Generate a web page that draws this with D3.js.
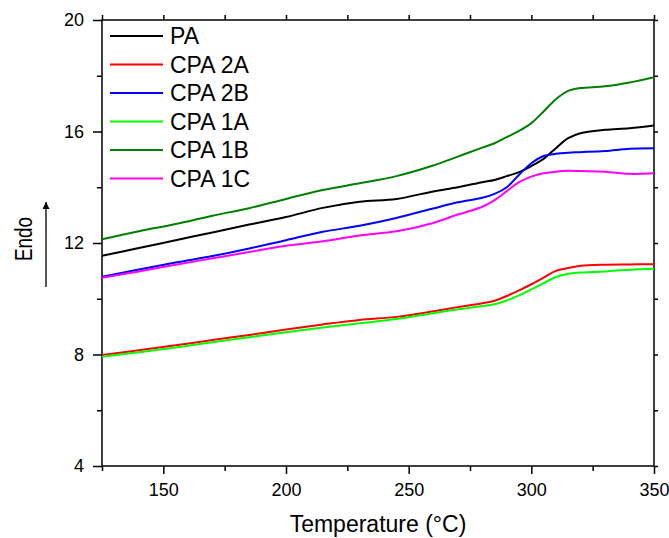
<!DOCTYPE html>
<html>
<head>
<meta charset="utf-8">
<script src="https://cdn.jsdelivr.net/npm/d3@7"></script>
<style>
  html, body { margin: 0; padding: 0; background: #fff; }
  svg { display: block; }
  text { font-family: Arial, "Liberation Sans", sans-serif; fill: #000; }
</style>
</head>
<body>
<svg id="chart" width="669" height="538"></svg>
<script>
// ---- data ----
const temps = [125,140,155,170,185,200,215,230,245,260,270,280,285,290,295,300,305,310,315,320,330,340,350];
const seriesNames = ["PA","CPA 2A","CPA 2B","CPA 1A","CPA 1B","CPA 1C"];
const seriesColors = ["#000000","#ff0000","#0000ff","#00ff00","#008000","#ff00ff"];
const PA    = [11.54,11.82,12.10,12.38,12.66,12.93,13.26,13.48,13.58,13.85,14.00,14.18,14.26,14.40,14.54,14.76,15.02,15.40,15.76,15.94,16.06,16.12,16.22];
const CPA2A = [7.98,8.15,8.33,8.52,8.70,8.90,9.08,9.24,9.35,9.55,9.70,9.84,9.93,10.10,10.30,10.52,10.76,11.00,11.10,11.18,11.22,11.23,11.24];
const CPA2B = [10.79,11.05,11.30,11.53,11.80,12.10,12.40,12.62,12.90,13.24,13.46,13.62,13.76,14.00,14.45,14.86,15.12,15.20,15.24,15.26,15.30,15.38,15.40];
const CPA1A = [7.92,8.08,8.25,8.44,8.62,8.80,8.97,9.12,9.27,9.48,9.62,9.74,9.80,9.94,10.12,10.34,10.56,10.78,10.90,10.94,10.98,11.04,11.08];
const CPA1B = [12.13,12.42,12.68,12.98,13.25,13.58,13.90,14.14,14.40,14.78,15.10,15.42,15.58,15.80,16.02,16.30,16.72,17.16,17.46,17.56,17.62,17.76,17.95];
const CPA1C = [10.75,10.98,11.22,11.45,11.68,11.90,12.06,12.27,12.42,12.72,13.02,13.30,13.54,13.86,14.18,14.38,14.50,14.56,14.59,14.58,14.56,14.48,14.50];
const seriesValues = [PA, CPA2A, CPA2B, CPA1A, CPA1B, CPA1C];
const xTicks = [150,200,250,300,350];
const xMinorTicks = [125,175,225,275,325];
const yTicks = [4,8,12,16,20];
const yMinorTicks = [6,10,14,18];
const xTitle = "Temperature (°C)";
const yTitle = "Endo";

// ---- layout ----
const L = 102, R = 654, T = 20, B = 466;
const svg = d3.select("#chart");
const x = d3.scaleLinear().domain([125,350]).range([L,R]);
const y = d3.scaleLinear().domain([4,20]).range([B,T]);

// frame
svg.append("rect").attr("x",L).attr("y",T).attr("width",R-L).attr("height",B-T)
  .attr("fill","none").attr("stroke","#000").attr("stroke-width",1.5);

function styleAxis(g){
  g.select(".domain").remove();
  g.selectAll("line").attr("stroke","#000").attr("stroke-width",1.5);
  g.selectAll("text").style("font-size","18px").style("font-family","Arial, 'Liberation Sans', sans-serif");
}
// bottom
svg.append("g").attr("transform",`translate(0,${B})`)
  .call(d3.axisBottom(x).tickValues(xTicks).tickSize(8).tickPadding(9).tickFormat(d3.format("d"))).call(styleAxis);
svg.append("g").attr("transform",`translate(0,${B})`)
  .call(d3.axisBottom(x).tickValues(xMinorTicks).tickSize(5).tickFormat("")).call(styleAxis);
// top
svg.append("g").attr("transform",`translate(0,${T})`)
  .call(d3.axisTop(x).tickValues(xTicks).tickSize(5).tickFormat("")).call(styleAxis);
svg.append("g").attr("transform",`translate(0,${T})`)
  .call(d3.axisTop(x).tickValues(xMinorTicks).tickSize(5).tickFormat("")).call(styleAxis);
// left
svg.append("g").attr("transform",`translate(${L},0)`)
  .call(d3.axisLeft(y).tickValues(yTicks).tickSize(9).tickPadding(9).tickFormat(d3.format("d"))).call(styleAxis);
svg.append("g").attr("transform",`translate(${L},0)`)
  .call(d3.axisLeft(y).tickValues(yMinorTicks).tickSize(5).tickFormat("")).call(styleAxis);
// right
svg.append("g").attr("transform",`translate(${R},0)`)
  .call(d3.axisRight(y).tickValues(yTicks).tickSize(4).tickFormat("")).call(styleAxis);
svg.append("g").attr("transform",`translate(${R},0)`)
  .call(d3.axisRight(y).tickValues(yMinorTicks).tickSize(4).tickFormat("")).call(styleAxis);

// clip
svg.append("clipPath").attr("id","clip").append("rect")
  .attr("x",L).attr("y",T).attr("width",R-L).attr("height",B-T);

const line = d3.line().x(d => x(d[0])).y(d => y(d[1])).curve(d3.curveCatmullRom.alpha(0.5));
const plot = svg.append("g").attr("clip-path","url(#clip)");
seriesValues.forEach((vals,i) => {
  plot.append("path").datum(temps.map((t,j) => [t, vals[j]]))
    .attr("fill","none").attr("stroke",seriesColors[i]).attr("stroke-width",2)
    .attr("stroke-linejoin","round").attr("d",line);
});

// legend
const leg = svg.append("g");
seriesNames.forEach((n,i) => {
  const cy = 36 + i*28.5;
  leg.append("line").attr("x1",110).attr("x2",163).attr("y1",cy).attr("y2",cy)
    .attr("stroke",seriesColors[i]).attr("stroke-width",2);
  leg.append("text").attr("x",170).attr("y",cy).attr("dy","0.36em")
    .style("font-size","23px").text(n);
});

// axis titles
svg.append("text").attr("x",378).attr("y",532).attr("text-anchor","middle")
  .style("font-size","23px").text(xTitle);
svg.append("text").attr("transform","translate(32,239) rotate(-90)").attr("text-anchor","middle")
  .attr("textLength",44).attr("lengthAdjust","spacingAndGlyphs")
  .style("font-size","23px").text(yTitle);
// arrow
svg.append("defs").append("marker").attr("id","arr").attr("viewBox","0 0 10 10")
  .attr("refX",10).attr("refY",5).attr("markerWidth",14).attr("markerHeight",7)
  .attr("markerUnits","userSpaceOnUse").attr("orient","auto")
  .append("path").attr("d","M0,0L10,5L0,10Z").attr("fill","#000");
svg.append("line").attr("x1",46).attr("x2",46).attr("y1",287).attr("y2",202)
  .attr("stroke","#000").attr("stroke-width",1.3).attr("marker-end","url(#arr)");
</script>
</body>
</html>
